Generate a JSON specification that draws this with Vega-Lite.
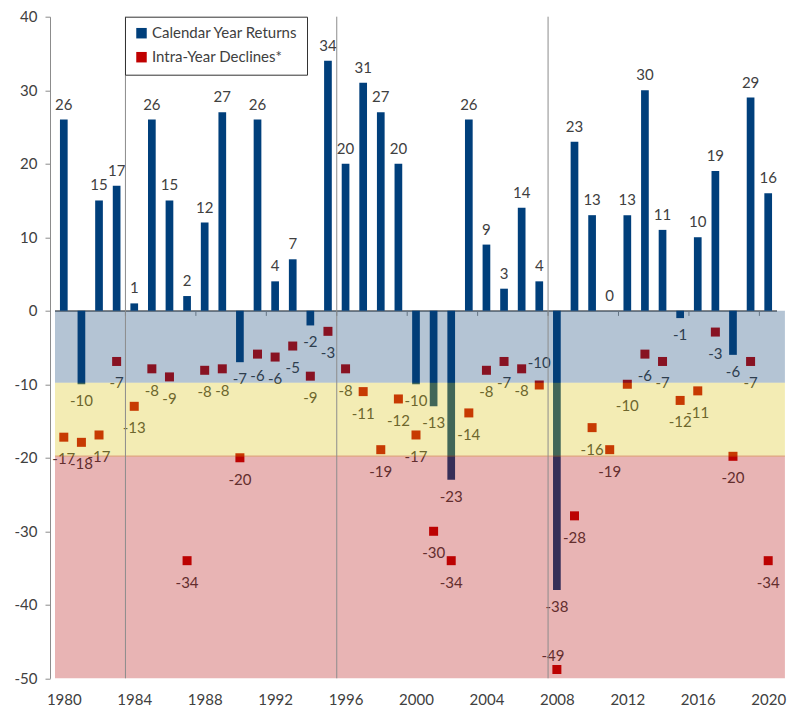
{
  "$schema": "https://vega.github.io/schema/vega-lite/v6.json",
  "autosize": "none",
  "width": 732,
  "height": 661.6,
  "padding": {"left": 50, "top": 16.7, "right": 12, "bottom": 30.7},
  "background": "white",
  "config": {
    "locale": {"number": {"decimal": ".", "thousands": ",", "grouping": [3], "currency": ["$", ""], "minus": "-"}},
    "view": {"stroke": null},
    "axis": {"labelFont": "Lato", "labelFontSize": 15, "labelColor": "#404040", "domainColor": "#8C8C8C", "tickColor": "#8C8C8C", "grid": false}
  },
  "datasets": {
    "sp": [
      {"year": 1980, "ret": 26, "decline": -17.2},
      {"year": 1981, "ret": -10, "decline": -17.9},
      {"year": 1982, "ret": 15, "decline": -16.9},
      {"year": 1983, "ret": 17, "decline": -6.9},
      {"year": 1984, "ret": 1, "decline": -13.0},
      {"year": 1985, "ret": 26, "decline": -7.9},
      {"year": 1986, "ret": 15, "decline": -9.0},
      {"year": 1987, "ret": 2, "decline": -34.0},
      {"year": 1988, "ret": 12, "decline": -8.1},
      {"year": 1989, "ret": 27, "decline": -7.9},
      {"year": 1990, "ret": -7, "decline": -20.0},
      {"year": 1991, "ret": 26, "decline": -5.9},
      {"year": 1992, "ret": 4, "decline": -6.3},
      {"year": 1993, "ret": 7, "decline": -4.8},
      {"year": 1994, "ret": -2, "decline": -8.9},
      {"year": 1995, "ret": 34, "decline": -2.8},
      {"year": 1996, "ret": 20, "decline": -7.9},
      {"year": 1997, "ret": 31, "decline": -11.0},
      {"year": 1998, "ret": 27, "decline": -18.9},
      {"year": 1999, "ret": 20, "decline": -12.0},
      {"year": 2000, "ret": -10, "decline": -16.9},
      {"year": 2001, "ret": -13, "decline": -30.0},
      {"year": 2002, "ret": -23, "decline": -34.0},
      {"year": 2003, "ret": 26, "decline": -13.9},
      {"year": 2004, "ret": 9, "decline": -8.1},
      {"year": 2005, "ret": 3, "decline": -6.9},
      {"year": 2006, "ret": 14, "decline": -7.9},
      {"year": 2007, "ret": 4, "decline": -10.1},
      {"year": 2008, "ret": -38, "decline": -48.8},
      {"year": 2009, "ret": 23, "decline": -27.9},
      {"year": 2010, "ret": 13, "decline": -15.9},
      {"year": 2011, "ret": 0, "decline": -18.9},
      {"year": 2012, "ret": 13, "decline": -10.0},
      {"year": 2013, "ret": 30, "decline": -5.9},
      {"year": 2014, "ret": 11, "decline": -6.9},
      {"year": 2015, "ret": -1, "decline": -12.2},
      {"year": 2016, "ret": 10, "decline": -10.9},
      {"year": 2017, "ret": 19, "decline": -2.9},
      {"year": 2018, "ret": -6, "decline": -19.8},
      {"year": 2019, "ret": 29, "decline": -6.9},
      {"year": 2020, "ret": 16, "decline": -34.0}
    ],
    "bands": [
      {"band": "0 to -10", "top": 0, "bottom": -9.8},
      {"band": "-10 to -20", "top": -9.8, "bottom": -19.85},
      {"band": "below -20", "top": -19.7, "bottom": -50}
    ],
    "eras": [{"x": 1983.5}, {"x": 1995.5}, {"x": 2007.5}],
    "ticks": [{"x": 1983.5}, {"x": 1987.5}, {"x": 1991.5}, {"x": 1995.5}, {"x": 1999.5}, {"x": 2003.5}, {"x": 2007.5}, {"x": 2011.5}, {"x": 2015.5}, {"x": 2019.5}]
  },
  "layer": [
    {
      "data": {"name": "sp"},
      "mark": {"type": "rule", "color": "#8C8C8C", "strokeWidth": 1},
      "encoding": {
        "x": {"datum": 1979.5, "type": "quantitative", "title": null, "scale": {"domain": [1979.5, 2020.5], "nice": false, "zero": false}, "axis": {"values": [1980, 1984, 1988, 1992, 1996, 2000, 2004, 2008, 2012, 2016, 2020], "format": "d", "title": null, "domain": false, "ticks": false, "labelPadding": 14}},
        "x2": {"datum": 2020.5},
        "y": {"datum": 0, "type": "quantitative", "title": null, "scale": {"domain": [-50, 40], "nice": false, "zero": false}, "axis": {"values": [-50, -40, -30, -20, -10, 0, 10, 20, 30, 40], "format": "d", "title": null, "tickSize": 5, "labelPadding": 8}}
      }
    },
    {
      "data": {"name": "ticks"},
      "mark": {"type": "rule", "color": "#8C8C8C", "strokeWidth": 1},
      "encoding": {
        "x": {"field": "x", "type": "quantitative", "title": null},
        "y": {"datum": 0, "type": "quantitative", "title": null},
        "y2": {"datum": -0.7}
      }
    },
    {
      "data": {"name": "sp"},
      "mark": {"type": "bar", "size": 7.7},
      "encoding": {
        "x": {"field": "year", "type": "quantitative", "title": null},
        "y": {"field": "ret", "type": "quantitative", "title": null},
        "color": {"datum": "Calendar Year Returns", "type": "nominal", "scale": {"domain": ["Calendar Year Returns", "Intra-Year Declines*"], "range": ["#003F7B", "#C00000"]}, "legend": {"title": null, "orient": "none", "legendX": 75, "legendY": 0, "symbolType": "square", "symbolSize": 110, "symbolStrokeWidth": 0, "labelFont": "Lato", "labelFontSize": 15, "labelColor": "#404040", "labelLimit": 300, "labelOffset": 3, "padding": 9, "rowPadding": 8, "strokeColor": "#333333", "fillColor": "white"}}
      }
    },
    {
      "data": {"name": "sp"},
      "mark": {"type": "square", "size": 81, "opacity": 1, "filled": true},
      "encoding": {
        "x": {"field": "year", "type": "quantitative", "title": null},
        "y": {"field": "decline", "type": "quantitative", "title": null},
        "color": {"datum": "Intra-Year Declines*", "type": "nominal"}
      }
    },
    {
      "data": {"name": "sp"},
      "transform": [{"filter": "datum.ret >= 0"}],
      "mark": {"type": "text", "font": "Lato", "fontSize": 15, "color": "#404040", "align": "center", "baseline": "alphabetic", "dy": -10},
      "encoding": {
        "x": {"field": "year", "type": "quantitative", "title": null},
        "y": {"field": "ret", "type": "quantitative", "title": null},
        "text": {"field": "ret", "type": "quantitative", "format": ".0f"}
      }
    },
    {
      "data": {"name": "sp"},
      "transform": [{"filter": "datum.ret < 0"}],
      "mark": {"type": "text", "font": "Lato", "fontSize": 15, "color": "#404040", "align": "center", "baseline": "alphabetic", "dy": 22},
      "encoding": {
        "x": {"field": "year", "type": "quantitative", "title": null},
        "y": {"field": "ret", "type": "quantitative", "title": null},
        "text": {"field": "ret", "type": "quantitative", "format": ".0f"}
      }
    },
    {
      "data": {"name": "sp"},
      "transform": [{"filter": "datum.year != 2007 && datum.year != 2008"}],
      "mark": {"type": "text", "font": "Lato", "fontSize": 15, "color": "#404040", "align": "center", "baseline": "alphabetic", "dy": 27},
      "encoding": {
        "x": {"field": "year", "type": "quantitative", "title": null},
        "y": {"field": "decline", "type": "quantitative", "title": null},
        "text": {"field": "decline", "type": "quantitative", "format": ".0f"}
      }
    },
    {
      "data": {"name": "sp"},
      "transform": [{"filter": "datum.year == 2007"}],
      "mark": {"type": "text", "font": "Lato", "fontSize": 15, "color": "#404040", "align": "center", "baseline": "alphabetic", "dy": -17},
      "encoding": {
        "x": {"field": "year", "type": "quantitative", "title": null},
        "y": {"field": "decline", "type": "quantitative", "title": null},
        "text": {"field": "decline", "type": "quantitative", "format": ".0f"}
      }
    },
    {
      "data": {"name": "sp"},
      "transform": [{"filter": "datum.year == 2008"}],
      "mark": {"type": "text", "font": "Lato", "fontSize": 15, "color": "#404040", "align": "center", "baseline": "alphabetic", "dy": -8, "dx": -4},
      "encoding": {
        "x": {"field": "year", "type": "quantitative", "title": null},
        "y": {"field": "decline", "type": "quantitative", "title": null},
        "text": {"field": "decline", "type": "quantitative", "format": ".0f"}
      }
    },
    {
      "data": {"name": "bands"},
      "mark": {"type": "rect", "opacity": 0.3},
      "encoding": {
        "x": {"datum": 1979.5, "type": "quantitative", "title": null},
        "x2": {"datum": 2020.95},
        "y": {"field": "top", "type": "quantitative", "title": null},
        "y2": {"field": "bottom"},
        "fill": {"field": "band", "type": "nominal", "scale": {"domain": ["0 to -10", "-10 to -20", "below -20"], "range": ["#053A70", "#D7C008", "#B20808"]}, "legend": null}
      }
    },
    {
      "data": {"name": "eras"},
      "mark": {"type": "rule", "color": "#8C8C8C", "strokeWidth": 1},
      "encoding": {
        "x": {"field": "x", "type": "quantitative", "title": null},
        "y": {"datum": 40, "type": "quantitative", "title": null},
        "y2": {"datum": -50}
      }
    }
  ]
}
